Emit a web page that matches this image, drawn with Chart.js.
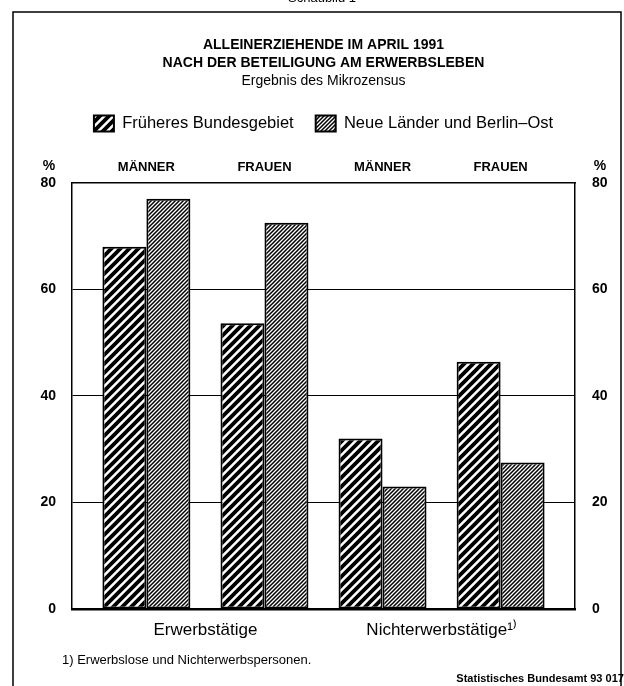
<!DOCTYPE html>
<html>
<head>
<meta charset="utf-8">
<script src="https://cdn.jsdelivr.net/npm/chart.js@4.4.1/dist/chart.umd.min.js"></script>
<style>
  body { margin: 0; background: #fff; }
  canvas { display: block; }
</style>
</head>
<body>
<canvas id="chart" width="624" height="686"></canvas>
<script>
// Data (percent)
const groupLabels = ['Erwerbstätige', 'Nichterwerbstätige¹⁾'];
const sexLabels = ['MÄNNER', 'FRAUEN', 'MÄNNER', 'FRAUEN'];
const seriesNames = ['Früheres Bundesgebiet', 'Neue Länder und Berlin–Ost'];
const westValues = [68, 53.6, 32, 46.4];
const eastValues = [77, 72.5, 23, 27.5];
const yTicks = [0, 20, 40, 60, 80];

const FONT = '"Liberation Sans", Arial, Helvetica, sans-serif';

// diagonal hatch patterns like the printed original
function hatch(size, lw) {
    const c = document.createElement('canvas');
    c.width = size;
    c.height = size;
    const g = c.getContext('2d');
    g.fillStyle = '#fff';
    g.fillRect(0, 0, size, size);
    g.strokeStyle = '#000';
    g.lineWidth = lw;
    g.beginPath();
    g.moveTo(-size, size);
    g.lineTo(size, -size);
    g.moveTo(0, size);
    g.lineTo(size, 0);
    g.moveTo(0, 2 * size);
    g.lineTo(2 * size, 0);
    g.stroke();
    return g.createPattern(c, 'repeat');
}
const westPattern = hatch(9, 3.8);
const eastPattern = hatch(4, 1.5);

const fixWidth = w => scale => { scale.width = w; };
const fixHeight = h => scale => { scale.height = h; };

// texts and frame around the chart
const decor = {
    id: 'decor',
    beforeDraw(chart) {
        const ctx = chart.ctx;
        ctx.save();
        ctx.fillStyle = '#fff';
        ctx.fillRect(0, 0, chart.width, chart.height);
        ctx.restore();
    },
    afterDraw(chart) {
        const ctx = chart.ctx;
        const a = chart.chartArea;
        ctx.save();
        ctx.strokeStyle = '#000';
        ctx.lineWidth = 1.5;
        ctx.strokeRect(13, 12, 608, 700);

        ctx.fillStyle = '#000';
        ctx.textAlign = 'center';
        ctx.textBaseline = 'alphabetic';
        ctx.font = '13px ' + FONT;
        ctx.fillText('Schaubild 1', 322, 2);

        ctx.font = 'bold 14px ' + FONT;
        ctx.textBaseline = 'middle';
        ctx.fillText('%', a.left - 23, 166);
        ctx.fillText('%', a.right + 25, 166);

        ctx.textAlign = 'left';
        ctx.font = '13px ' + FONT;
        ctx.fillText('1) Erwerbslose und Nichterwerbspersonen.', 62, 660);

        ctx.textAlign = 'right';
        ctx.font = 'bold 11px ' + FONT;
        ctx.fillText('Statistisches Bundesamt 93 0171', 630, 679);
        ctx.restore();
    }
};

new Chart(document.getElementById('chart'), {
    type: 'bar',
    data: {
        datasets: [{
            label: seriesNames[0],
            data: westValues.map((v, i) => ({ x: i, y: v })),
            backgroundColor: westPattern,
            borderColor: '#000',
            borderWidth: 2,
            borderSkipped: false
        }, {
            label: seriesNames[1],
            data: eastValues.map((v, i) => ({ x: i, y: v })),
            backgroundColor: eastPattern,
            borderColor: '#000',
            borderWidth: 2,
            borderSkipped: false
        }]
    },
    options: {
        responsive: false,
        animation: false,
        devicePixelRatio: 1,
        categoryPercentage: 0.745,
        barPercentage: 1,
        layout: { padding: { left: 32, right: 9, top: 36, bottom: 47 } },
        plugins: {
            tooltip: { enabled: false },
            title: {
                display: true,
                text: ['ALLEINERZIEHENDE IM APRIL 1991', 'NACH DER BETEILIGUNG AM ERWERBSLEBEN'],
                color: '#000',
                font: { family: FONT, size: 14, weight: 'bold', lineHeight: 1.29 },
                padding: { top: 0, bottom: 0 }
            },
            subtitle: {
                display: true,
                text: 'Ergebnis des Mikrozensus',
                color: '#000',
                font: { family: FONT, size: 14, lineHeight: 1.29 },
                padding: { top: 0, bottom: 3 }
            },
            legend: {
                position: 'top',
                labels: {
                    color: '#000',
                    font: { family: FONT, size: 16.5 },
                    boxWidth: 20,
                    boxHeight: 16,
                    padding: 22
                }
            }
        },
        scales: {
            x: {
                type: 'linear',
                position: 'bottom',
                offset: false,
                min: -0.63,
                max: 3.63,
                grid: { display: false, drawTicks: false },
                border: { display: true, color: '#000', width: 2.5 },
                afterBuildTicks: axis => { axis.ticks = [{ value: 0.5 }, { value: 2.5 }]; },
                afterFit: fixHeight(30),
                ticks: {
                    color: '#000',
                    font: { family: FONT, size: 17 },
                    padding: 11,
                    autoSkip: false,
                    maxRotation: 0,
                    callback: (v, i) => groupLabels[i]
                }
            },
            xTop: {
                type: 'linear',
                position: 'top',
                offset: false,
                min: -0.63,
                max: 3.63,
                grid: { display: false, drawTicks: false },
                border: { display: true, color: '#000', width: 1.5 },
                afterBuildTicks: axis => { axis.ticks = sexLabels.map((s, i) => ({ value: i })); },
                afterFit: fixHeight(41),
                ticks: {
                    color: '#000',
                    font: { family: FONT, size: 13, weight: 'bold' },
                    padding: 7,
                    autoSkip: false,
                    maxRotation: 0,
                    callback: (v, i) => sexLabels[i]
                }
            },
            y: {
                position: 'left',
                min: 0,
                max: 80,
                afterBuildTicks: axis => { axis.ticks = yTicks.map(v => ({ value: v })); },
                afterFit: fixWidth(40),
                grid: { color: '#000', lineWidth: 1, drawTicks: false },
                border: { display: true, color: '#000', width: 1.5 },
                ticks: {
                    color: '#000',
                    font: { family: FONT, size: 14, weight: 'bold' },
                    padding: 16
                }
            },
            y2: {
                position: 'right',
                min: 0,
                max: 80,
                afterBuildTicks: axis => { axis.ticks = yTicks.map(v => ({ value: v })); },
                afterFit: fixWidth(40),
                grid: { display: false, drawTicks: false },
                border: { display: true, color: '#000', width: 1.5 },
                ticks: {
                    color: '#000',
                    font: { family: FONT, size: 14, weight: 'bold' },
                    padding: 17
                }
            }
        }
    },
    plugins: [decor]
});
</script>
</body>
</html>
